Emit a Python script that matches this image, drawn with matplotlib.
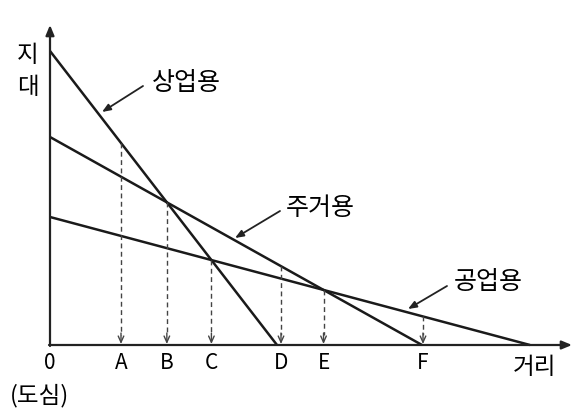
import numpy as np
import matplotlib
matplotlib.use("Agg")
import matplotlib.pyplot as plt

plt.rcParams['font.family'] = ['Noto Sans CJK KR', 'DejaVu Sans']

# bid-rent lines: (rent at centre, distance where rent hits zero)
uses = ["상업용", "주거용", "공업용"]
intercepts = [294, 208, 128]
zero_dist = [227, 372, 480]

# tick letters on the distance axis
tick_labels = ["A", "B", "C", "D", "E", "F"]
a_pos, d_pos, f_pos = 71, 231, 373


def rent(i, x):
    return intercepts[i] * (1 - x / zero_dist[i])


def cross(i, j):
    si = intercepts[i] / zero_dist[i]
    sj = intercepts[j] / zero_dist[j]
    return (intercepts[i] - intercepts[j]) / (si - sj)


b_pos = cross(0, 1)
c_pos = cross(0, 2)
e_pos = cross(1, 2)
drops = [(a_pos, 0), (b_pos, 0), (c_pos, 0), (d_pos, 1), (e_pos, 1), (f_pos, 2)]

fig = plt.figure(figsize=(5.85, 4.14), dpi=100)
ax = fig.add_axes([0, 0, 1, 1])
ax.set_xlim(-50, 535)
ax.set_ylim(-68, 346)
ax.axis("off")

# axes with arrows
ax.annotate("", xy=(0, 320), xytext=(0, -1),
            arrowprops=dict(arrowstyle="-|>,head_length=0.6,head_width=0.25", color="#222", lw=1.6,
                            shrinkA=0, shrinkB=0))
ax.annotate("", xy=(522, 0), xytext=(-1, 0),
            arrowprops=dict(arrowstyle="-|>,head_length=0.6,head_width=0.25", color="#222", lw=1.6,
                            shrinkA=0, shrinkB=0))

# rent lines
for i in range(3):
    xs = np.array([0, zero_dist[i]])
    ax.plot(xs, rent(i, xs), color="#1a1a1a", lw=1.8, solid_capstyle="butt")

# dashed drop arrows
for x, i in drops:
    y = rent(i, x)
    ax.plot([x, x], [y, 10], color="#444", lw=1.0, ls=(0, (3.5, 2.5)))
    ax.annotate("", xy=(x, 1), xytext=(x, 12),
                arrowprops=dict(arrowstyle="->,head_length=0.45,head_width=0.2", color="#444", lw=1.0,
                                shrinkA=0, shrinkB=0))

# tick labels
ax.text(0, -17, "0", ha="center", va="center", fontsize=15)
for lab, (x, i) in zip(tick_labels, drops):
    ax.text(x, -17, lab, ha="center", va="center", fontsize=15)
ax.text(-10, -50, "(도심)", ha="center", va="center", fontsize=17)
ax.text(485, -22, "거리", ha="center", va="center", fontsize=17)
ax.text(-22, 291, "지", ha="center", va="center", fontsize=17)
ax.text(-22, 259, "대", ha="center", va="center", fontsize=17)

# line labels with arrows
label_pos = [(136, 263), (270, 138), (438, 64)]
arrow_from = [(93, 259), (230, 134), (397, 59)]
arrow_to = [(52, 233), (185, 107), (358, 36)]
for name, tp, af, at in zip(uses, label_pos, arrow_from, arrow_to):
    ax.text(tp[0], tp[1], name, ha="center", va="center", fontsize=18)
    ax.annotate("", xy=at, xytext=af,
                arrowprops=dict(arrowstyle="-|>,head_length=0.5,head_width=0.2", color="#222", lw=1.3,
                                shrinkA=0, shrinkB=0))

fig.savefig("out.png", dpi=100, facecolor="white")
